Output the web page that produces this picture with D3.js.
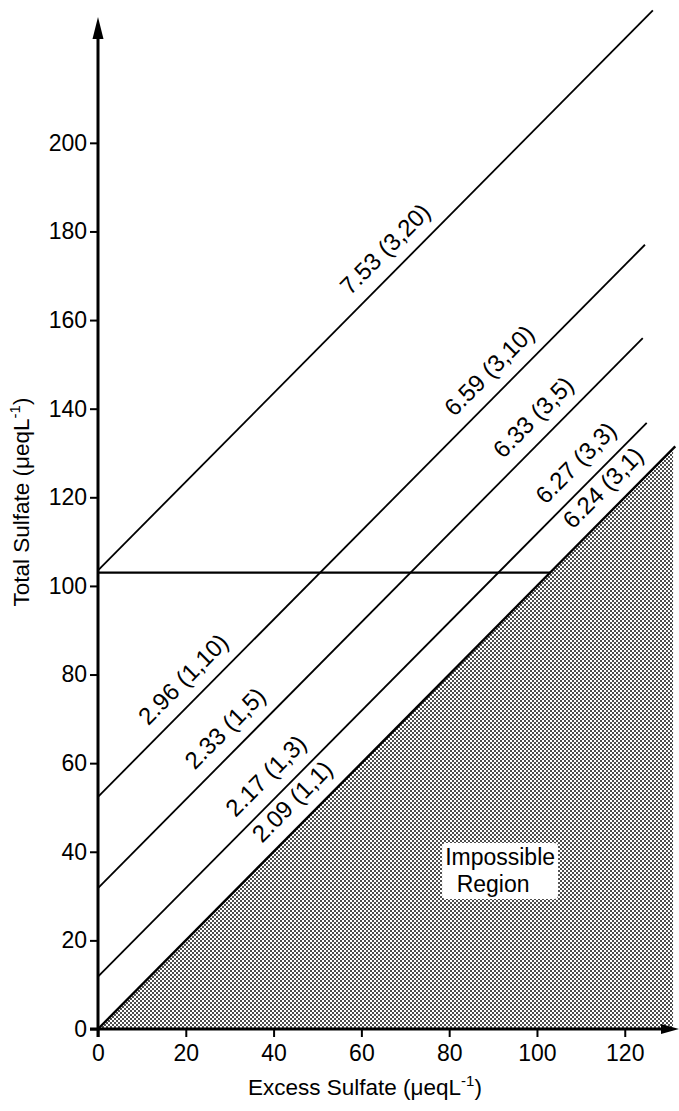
<!DOCTYPE html>
<html>
<head>
<meta charset="utf-8">
<script src="https://cdn.jsdelivr.net/npm/d3@7/dist/d3.min.js"></script>
<style>
  html, body { margin: 0; padding: 0; background: #fff; }
  svg { display: block; }
  text { font-family: "Liberation Sans", Arial, Helvetica, sans-serif; fill: #000; }
</style>
</head>
<body>
<svg id="chart" width="679" height="1111"></svg>
<script>
// ---- data ----
const xTicks = [0, 20, 40, 60, 80, 100, 120];
const yTicks = [0, 20, 40, 60, 80, 100, 120, 140, 160, 180, 200];
// lines of constant sea-salt sulfate: total = excess + intercept
const lineIntercepts = [103.5, 52.4, 31.8, 11.8, 0];
const lineEnds       = [126.4, 124.6, 124.1, 125.0, 131.5];
const lineWidths     = [1.8, 1.8, 1.8, 1.8, 2.4];
// labels on lines
const labelTexts = ["7.53 (3,20)", "2.96 (1,10)", "6.59 (3,10)", "2.33 (1,5)", "6.33 (3,5)",
                    "2.17 (1,3)", "6.27 (3,3)", "2.09 (1,1)", "6.24 (3,1)"];
const labelLine  = [0, 1, 1, 2, 2, 3, 3, 4, 4];
const labelX     = [59.7, 13.7, 83.4, 24.3, 94.5, 33.6, 104.2, 39.6, 110.4];
// horizontal reference line
const hLineY = 103;
const hLineX = [0, 103];
// impossible region (below 1:1 line)
const regionX = [0, 131];
const regionText = ["Impossible", "Region"];
const regionTextX = [91.6, 90.0];
const regionTextY = [37.0, 30.9];

// ---- scales ----
const svg = d3.select("#chart");
const x = d3.scaleLinear().domain([0, 131.9]).range([98, 677]);
const y = d3.scaleLinear().domain([0, 228.4]).range([1029, 17]);

// ---- pattern ----
const defs = svg.append("defs");
const pat = defs.append("pattern").attr("id", "dots")
  .attr("patternUnits", "userSpaceOnUse").attr("width", 4).attr("height", 4);
pat.append("rect").attr("width", 4).attr("height", 4).attr("fill", "#fff");
pat.append("rect").attr("x", 0.1).attr("y", 0.1).attr("width", 1.8).attr("height", 1.8).attr("fill", "#222");
pat.append("rect").attr("x", 2.1).attr("y", 2.1).attr("width", 1.8).attr("height", 1.8).attr("fill", "#222");

// impossible region
svg.append("path")
  .attr("d", d3.line()([[x(regionX[0]), y(0)], [x(regionX[1]), y(0)], [x(regionX[1]), y(regionX[1])]]) + "Z")
  .attr("fill", "url(#dots)");

// ---- lines ----
lineIntercepts.forEach((b, i) => {
  svg.append("line")
    .attr("x1", x(0)).attr("y1", y(b))
    .attr("x2", x(lineEnds[i])).attr("y2", y(lineEnds[i] + b))
    .attr("stroke", "#000").attr("stroke-width", lineWidths[i]);
});
svg.append("line")
  .attr("x1", x(hLineX[0])).attr("y1", y(hLineY))
  .attr("x2", x(hLineX[1])).attr("y2", y(hLineY))
  .attr("stroke", "#000").attr("stroke-width", 2.4);

// ---- line labels ----
const ang = -Math.atan((y(0) - y(1)) / (x(1) - x(0))) * 180 / Math.PI;
labelTexts.forEach((t, i) => {
  const b = lineIntercepts[labelLine[i]];
  const fx = labelX[i];
  svg.append("text")
    .attr("transform", `translate(${x(fx)},${y(fx + b)}) rotate(${ang})`)
    .attr("x", 0).attr("y", -14)
    .attr("font-size", 24)
    .text(t);
});

// ---- region label ----
const rg = svg.append("g");
regionText.forEach((t, i) => {
  rg.append("text")
    .attr("x", x(regionTextX[i])).attr("y", y(regionTextY[i]))
    .attr("text-anchor", "middle").attr("font-size", 23)
    .text(t);
});
const bb = rg.node().getBBox();
rg.insert("rect", "text")
  .attr("x", bb.x - 3).attr("y", bb.y - 1)
  .attr("width", bb.width + 6).attr("height", bb.height + 3)
  .attr("rx", 4).attr("fill", "#fff");

// ---- axes ----
const ax = svg.append("g").attr("transform", `translate(0,${y(0)})`)
  .call(d3.axisBottom(x).tickValues(xTicks).tickSize(8).tickPadding(8).tickSizeOuter(0));
const ay = svg.append("g").attr("transform", `translate(${x(0)},0)`)
  .call(d3.axisLeft(y).tickValues(yTicks).tickSize(8).tickPadding(3).tickSizeOuter(0));
[ax, ay].forEach(g => {
  g.select(".domain").remove();
  g.selectAll(".tick line").attr("stroke", "#000").attr("stroke-width", 2);
  g.selectAll(".tick text").attr("font-size", 23).attr("font-family", "Liberation Sans, Arial, sans-serif").attr("fill", "#000");
});

// axis lines with arrows
const x0 = x(0), y0 = y(0);
const xEnd = x.range()[1] + 2, yTop = y.range()[1];
svg.append("line").attr("x1", x0).attr("y1", y0 + 8).attr("x2", x0).attr("y2", yTop + 12)
  .attr("stroke", "#000").attr("stroke-width", 3);
svg.append("line").attr("x1", x0 - 8).attr("y1", y0).attr("x2", xEnd - 10).attr("y2", y0)
  .attr("stroke", "#000").attr("stroke-width", 3);
svg.append("path")
  .attr("d", `M${x0},${yTop} L${x0 - 5.5},${yTop + 22} L${x0 + 5.5},${yTop + 22} Z`).attr("fill", "#000");
svg.append("path")
  .attr("d", `M${xEnd},${y0} L${xEnd - 18},${y0 - 5} L${xEnd - 18},${y0 + 5} Z`).attr("fill", "#000");

// axis titles
const yt = svg.append("text")
  .attr("transform", `translate(29,${(y(0) + y(228.4)) / 2 - 21}) rotate(-90)`)
  .attr("text-anchor", "middle").attr("font-size", 22.5);
yt.append("tspan").text("Total Sulfate (μeqL");
yt.append("tspan").attr("font-size", 15).attr("dy", -9).text("-1");
yt.append("tspan").attr("dy", 9).text(")");

const xt = svg.append("text")
  .attr("x", 365).attr("y", 1095)
  .attr("text-anchor", "middle").attr("font-size", 22.5);
xt.append("tspan").text("Excess Sulfate (μeqL");
xt.append("tspan").attr("font-size", 15).attr("dy", -9).text("-1");
xt.append("tspan").attr("dy", 9).text(")");
</script>
</body>
</html>
